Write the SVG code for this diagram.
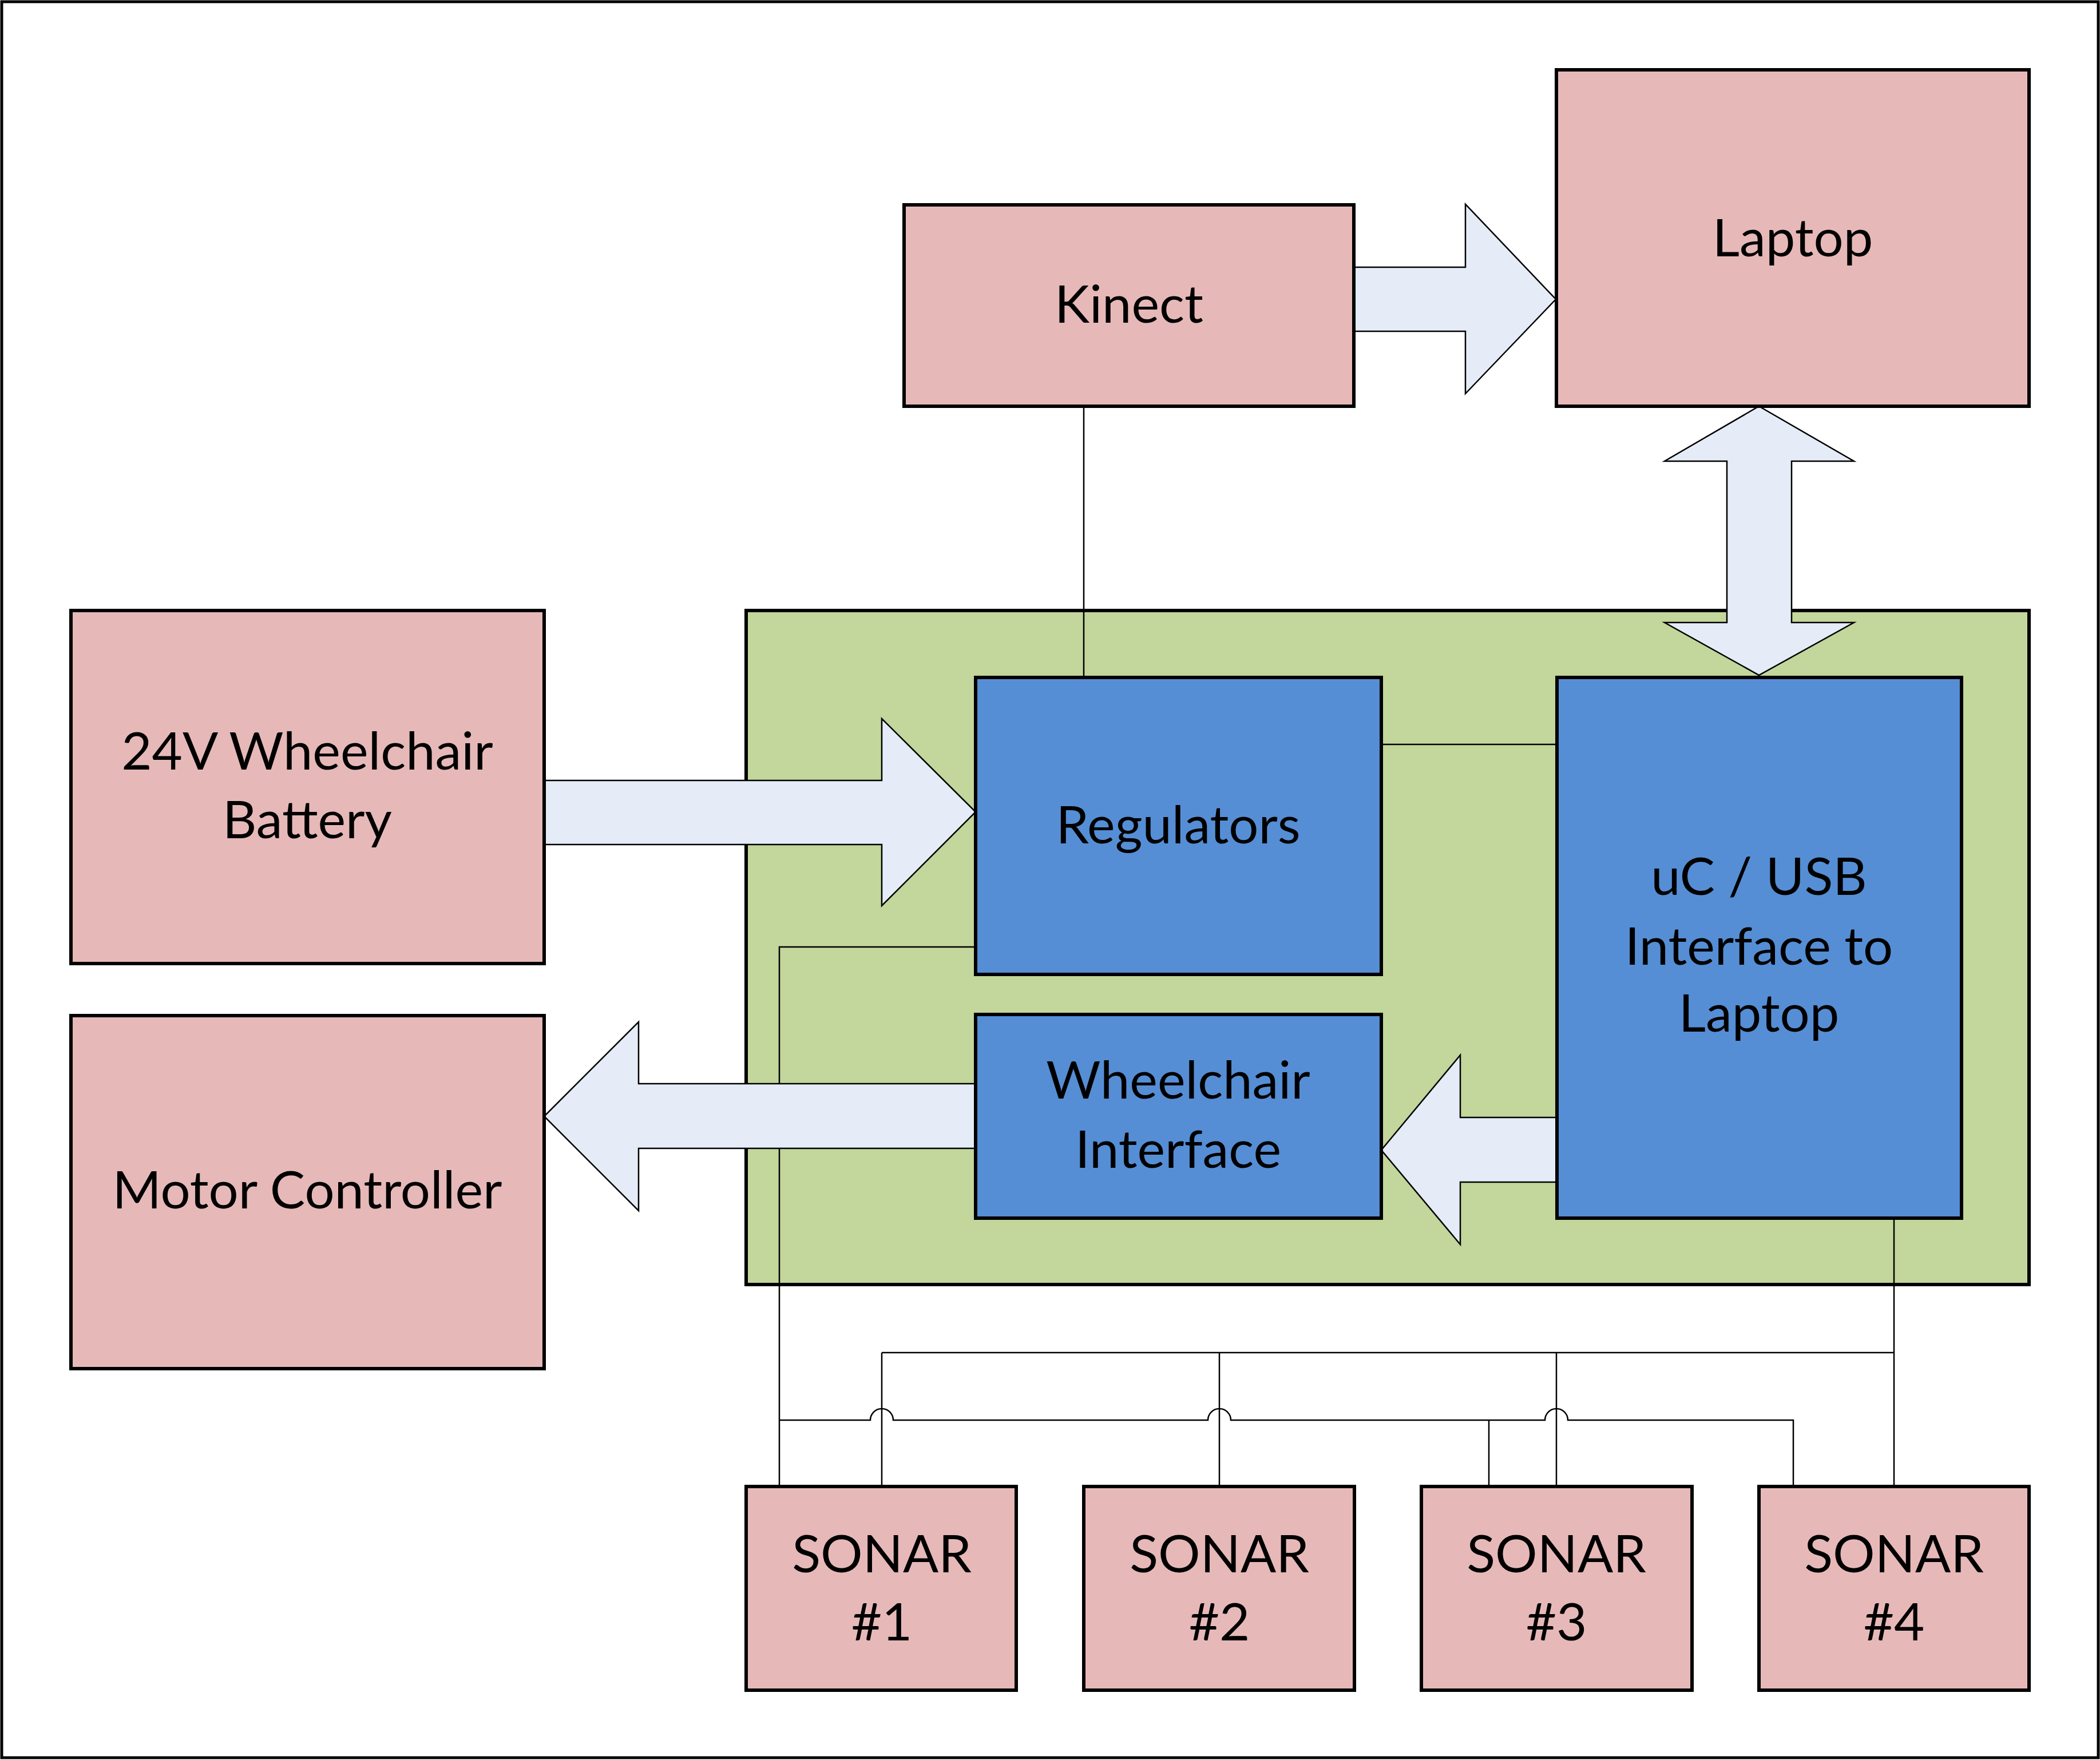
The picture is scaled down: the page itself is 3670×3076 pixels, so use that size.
<svg xmlns="http://www.w3.org/2000/svg" width="3670" height="3076" viewBox="0 0 3670 3076">
<style>
.pink{fill:#E6B9B8;stroke:#000;stroke-width:6}
.blue{fill:#558ED5;stroke:#000;stroke-width:6}
.green{fill:#C3D69B;stroke:#000;stroke-width:6}
.wire{fill:none;stroke:#000;stroke-width:2.5}
.barrow{fill:#E5ECF7;stroke:#000;stroke-width:2.5;stroke-linejoin:miter}
text{font-family:Lato,"Open Sans","Liberation Sans",sans-serif;font-size:92px;fill:#000;text-anchor:middle}
</style>
<rect x="0" y="0" width="3670" height="3076" fill="#fff"/>
<rect x="3" y="3" width="3664" height="3069" fill="none" stroke="#000" stroke-width="5"/>
<g id="board">
<rect class="green" x="1304" y="1067" width="2242" height="1178"/>
</g>
<g id="connectors">
<path class="wire" d="M1894,710 V1183"/>
<path class="wire" d="M2414,1301 H2721"/>
<path class="wire" d="M1705,1655 H1362 V2598"/>
<path class="wire" d="M1362,2482 H1521 A20,20 0 0 1 1561,2482 H2111 A20,20 0 0 1 2151,2482 H2700 A20,20 0 0 1 2740,2482 H3134 V2598"/>
<path class="wire" d="M2602,2482 V2598"/>
<path class="wire" d="M3310,2129 V2598"/>
<path class="wire" d="M1541,2364 H3310"/>
<path class="wire" d="M1541,2364 V2598 M2131,2364 V2598 M2720,2364 V2598"/>
<polygon class="barrow" points="2366,467 2561,467 2561,357 2719,523 2561,688 2561,579 2366,579"/>
<polygon class="barrow" points="3074,710 3240,806 3131,806 3131,1088 3240,1088 3074,1180 2909,1088 3018,1088 3018,806 2909,806"/>
<polygon class="barrow" points="951,1364 1541,1364 1541,1256 1705,1419 1541,1583 1541,1476 951,1476"/>
<polygon class="barrow" points="1705,1894 1116,1894 1116,1786 951,1951 1116,2116 1116,2007 1705,2007"/>
<polygon class="barrow" points="2721,1953 2552,1953 2552,1844 2414,2010 2552,2175 2552,2066 2721,2066"/>
</g>
<g id="kinect">
<rect class="pink" x="1580" y="358" width="786" height="352"/>
<text x="1973" y="564">Kinect</text>
</g>
<g id="laptop">
<rect class="pink" x="2720" y="122" width="826" height="588"/>
<text x="3133" y="448">Laptop</text>
</g>
<g id="battery">
<rect class="pink" x="124" y="1067" width="827" height="617"/>
<text x="537" y="1345">24V Wheelchair</text>
<text x="537" y="1465">Battery</text>
</g>
<g id="motor-controller">
<rect class="pink" x="124" y="1775" width="827" height="617"/>
<text x="537" y="2112">Motor Controller</text>
</g>
<g id="regulators">
<rect class="blue" x="1705" y="1184" width="709" height="519"/>
<text x="2059" y="1474">Regulators</text>
</g>
<g id="wheelchair-interface">
<rect class="blue" x="1705" y="1773" width="709" height="356"/>
<text x="2059" y="1920">Wheelchair</text>
<text x="2059" y="2041">Interface</text>
</g>
<g id="uc-usb">
<rect class="blue" x="2721" y="1184" width="707" height="945"/>
<text x="3074" y="1564">uC / USB</text>
<text x="3074" y="1686">Interface to</text>
<text x="3074" y="1803">Laptop</text>
</g>
<g id="sonar1">
<rect class="pink" x="1304" y="2598" width="472" height="356"/>
<text x="1541" y="2748">SONAR</text>
<text x="1541" y="2867">#1</text>
</g>
<g id="sonar2">
<rect class="pink" x="1894" y="2598" width="473" height="356"/>
<text x="2131" y="2748">SONAR</text>
<text x="2131" y="2867">#2</text>
</g>
<g id="sonar3">
<rect class="pink" x="2484" y="2598" width="473" height="356"/>
<text x="2720" y="2748">SONAR</text>
<text x="2720" y="2867">#3</text>
</g>
<g id="sonar4">
<rect class="pink" x="3074" y="2598" width="472" height="356"/>
<text x="3310" y="2748">SONAR</text>
<text x="3310" y="2867">#4</text>
</g>
</svg>
